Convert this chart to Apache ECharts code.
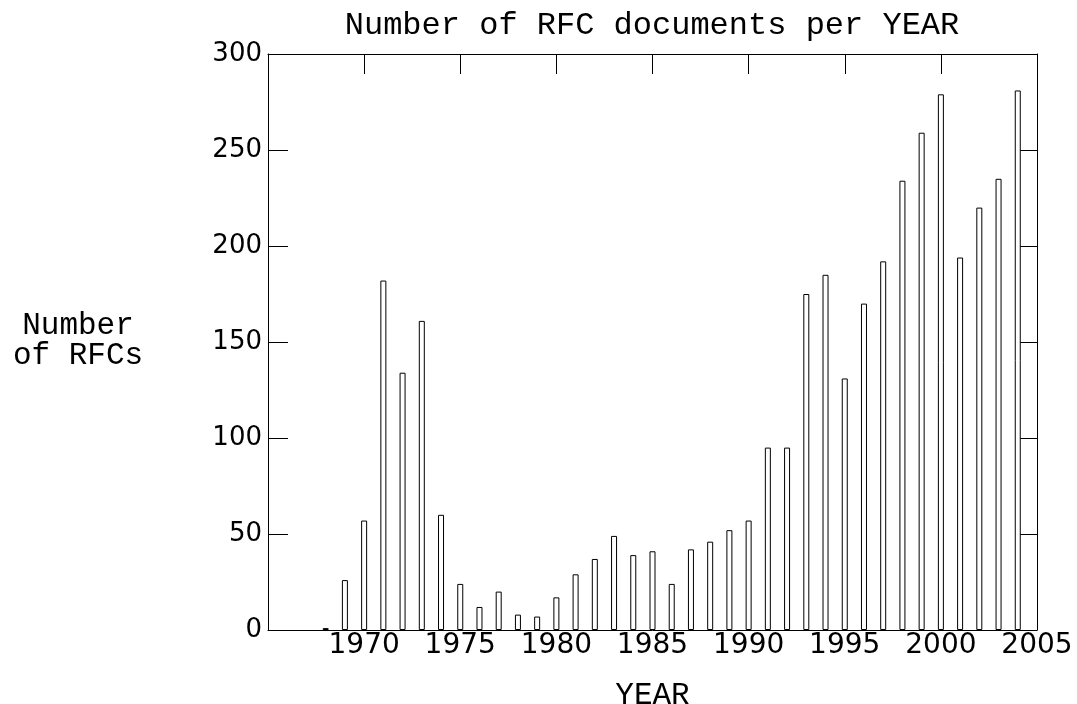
<!DOCTYPE html>
<html>
<head>
<meta charset="utf-8">
<script src="https://cdn.jsdelivr.net/npm/echarts@6/dist/echarts.min.js"></script>
<style>html,body{margin:0;padding:0;background:#fff}#c{width:1077px;height:704px}</style>
</head>
<body>
<div id="c"></div>
<script>
const years = [1968,1969,1970,1971,1972,1973,1974,1975,1976,1977,1978,1979,1980,1981,1982,1983,1984,1985,1986,1987,1988,1989,1990,1991,1992,1993,1994,1995,1996,1997,1998,1999,2000,2001,2002,2003,2004];
const rfcCounts = [1,26,57,182,134,161,60,24,12,20,8,7,17,29,37,49,39,41,24,42,46,52,57,95,95,175,185,131,170,192,234,259,279,194,220,235,281];
const xTicks = [1965,1970,1975,1980,1985,1990,1995,2000,2005];
const yTicks = [0,50,100,150,200,250,300];

const mono = 'Liberation Mono';
const sans = 'DejaVu Sans';
const chart = echarts.init(document.getElementById('c'), null, {renderer:'canvas'});
const line = {show:true, onZero:false, lineStyle:{color:'#000', width:1}};
chart.setOption({
  animation:false,
  backgroundColor:'#fff',
  title:[
    {text:'Number of RFC documents per YEAR', left:647, top:5, textAlign:'center',
     textStyle:{fontFamily:mono, fontSize:32, fontWeight:'normal', color:'#000'}},
    {text:'Number\nof RFCs', left:73, top:306, textAlign:'center',
     textStyle:{fontFamily:mono, fontSize:31, fontWeight:'normal', color:'#000', lineHeight:30}}
  ],
  grid:{left:268, right:40, top:54, bottom:74, show:false, containLabel:false, outerBoundsMode:'none'},
  xAxis:[
    {type:'value', position:'bottom', min:xTicks[0], max:xTicks[xTicks.length-1], interval:5,
     name:'YEAR', nameLocation:'middle', nameGap:50,
     nameTextStyle:{fontFamily:mono, fontSize:31, color:'#000'},
     axisLine:line, axisTick:{show:true, inside:true, length:9, lineStyle:{color:'#000'}},
     splitLine:{show:false},
     axisLabel:{margin:2, fontFamily:sans, fontSize:28, color:'#000',
       formatter:v=> (v===xTicks[0] ? '' : String(v))}},
    {type:'value', position:'top', min:xTicks[0], max:xTicks[xTicks.length-1], interval:5,
     axisLine:line, axisTick:{show:true, inside:true, length:20, lineStyle:{color:'#000'}},
     splitLine:{show:false}, axisLabel:{show:false}}
  ],
  yAxis:[
    {type:'value', position:'left', min:yTicks[0], max:yTicks[yTicks.length-1], interval:50,
     axisLine:line, axisTick:{show:true, inside:true, length:20, lineStyle:{color:'#000'}},
     splitLine:{show:false},
     axisLabel:{margin:6, fontFamily:sans, fontSize:26, color:'#000'}},
    {type:'value', position:'right', min:yTicks[0], max:yTicks[yTicks.length-1], interval:50,
     axisLine:line, axisTick:{show:true, inside:true, length:20, lineStyle:{color:'#000'}},
     splitLine:{show:false}, axisLabel:{show:false}}
  ],
  series:[{
    type:'bar', xAxisIndex:0, yAxisIndex:0, barWidth:6,
    itemStyle:{color:'#fff', borderColor:'#000', borderWidth:1},
    data: years.map((y,i)=>[y, rfcCounts[i]])
  }]
});
</script>
</body>
</html>
